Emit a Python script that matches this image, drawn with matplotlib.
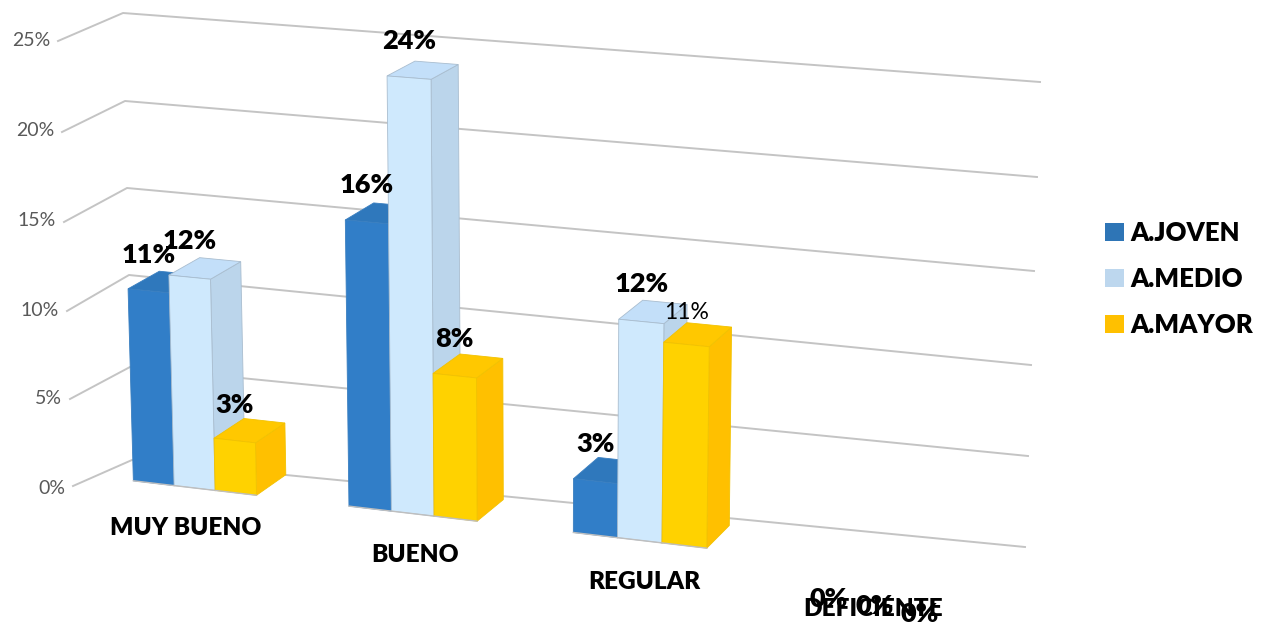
import numpy as np
import matplotlib
matplotlib.use("Agg")
import matplotlib.pyplot as plt
from matplotlib.patches import Polygon, Patch

plt.rcParams['font.family'] = ['Lato', 'DejaVu Sans']

categories = ['MUY BUENO', 'BUENO', 'REGULAR', 'DEFICIENTE']
series = ['A.JOVEN', 'A.MEDIO', 'A.MAYOR']
joven = [11, 16, 3, 0]
medio = [12, 24, 12, 0]
mayor = [3, 8, 11, 0]
ticks = [0, 5, 10, 15, 20, 25]

front_colors = ['#317EC8', '#CFE9FD', '#FFD200']
top_colors = ['#2F78BC', '#C3DFF9', '#FFC800']
side_colors = ['#2E6FAE', '#BBD5EB', '#FFC000']
edge_colors = ['#3A7FC0', '#A9BDCF', '#F2C200']
legend_colors = ['#2E75B6', '#BDD7EE', '#FFC000']

BAR = 0.192  # bar width in category units

# wall corners per tick, in pixels
wall_left = [(73, 486), (70, 399), (67, 311), (64, 222), (62, 132), (58, 41)]
wall_corner = [(132, 460), (130, 367), (129, 275), (127, 188), (125, 101), (123, 13)]
wall_right = [(1025, 547), (1028, 456), (1031, 365), (1034, 271), (1037, 177), (1040, 82)]

# perspective calibration: (category, bar edge, value) -> pixel, front and back plane of the bars
front_cal = [(0, 0, 0, 133, 481), (0, 1, 0, 174, 486), (0, 2, 0, 215, 490), (0, 3, 0, 257, 495),
             (1, 0, 0, 349, 506), (1, 3, 0, 477, 521), (2, 0, 0, 573, 533), (2, 3, 0, 707, 548),
             (0, 0, 11, 128, 289), (0, 1, 12, 169, 275), (0, 2, 3, 214, 438), (0, 3, 3, 256, 443),
             (1, 0, 16, 345, 220), (1, 1, 24, 387, 76), (1, 2, 8, 433, 373), (1, 3, 8, 477, 378),
             (2, 0, 3, 573, 479), (2, 1, 12, 619, 319), (2, 2, 11, 664, 342), (2, 3, 11, 709, 347)]
back_cal = [(0, 1, 12, 200, 257), (0, 2, 12, 241, 262), (0, 3, 3, 285, 423), (0, 3, 0, 286, 475),
            (1, 1, 24, 415, 61), (1, 2, 24, 458, 65), (1, 3, 8, 503, 358), (1, 3, 0, 503, 500),
            (2, 3, 0, 729, 525), (2, 3, 11, 732, 327), (1, 0, 16, 373, 203), (0, 0, 11, 159, 271),
            (2, 0, 3, 598, 458), (2, 1, 12, 643, 300)]


def fit_plane(cal):
    rows, rhs = [], []
    for i, k, v, px, py in cal:
        x = i + k * BAR
        rows.append([x, v, 1, 0, 0, 0, -px * x, -px * v])
        rhs.append(px)
        rows.append([0, 0, 0, x, v, 1, -py * x, -py * v])
        rhs.append(py)
    h = np.linalg.lstsq(np.array(rows, float), np.array(rhs, float), rcond=None)[0]
    return np.append(h, 1).reshape(3, 3)


def project(h, x, v):
    p = h @ np.array([x, v, 1.0])
    return p[0] / p[2], p[1] / p[2]


front = fit_plane(front_cal)
back = fit_plane(back_cal)

fig = plt.figure(figsize=(12.66, 6.23), dpi=100)
ax = fig.add_axes([0, 0, 1, 1])
ax.set_xlim(0, 1266)
ax.set_ylim(623, 0)
ax.axis('off')

# wall gridlines and value ticks
for n, t in enumerate(ticks):
    p0, p1, p2 = wall_left[n], wall_corner[n], wall_right[n]
    ax.plot([p0[0], p1[0], p2[0]], [p0[1], p1[1], p2[1]], color='#C4C4C4', lw=1.4, zorder=1)
    ax.text(p0[0] - 8, p0[1] + (2 if t == 0 else -1), f'{t}%', ha='right', va='center',
            fontsize=14, color='#595959')


def draw_bar(x, v, j):
    x2 = x + BAR
    fb, fr = project(front, x, 0), project(front, x2, 0)
    ft, frt = project(front, x, v), project(front, x2, v)
    bt, brt = project(back, x, v), project(back, x2, v)
    bb = project(back, x2, 0)
    z = 2 + x
    ax.add_patch(Polygon([frt, brt, bb, fr], fc=side_colors[j], ec=edge_colors[j], lw=0.6, zorder=z))
    ax.add_patch(Polygon([ft, bt, brt, frt], fc=top_colors[j], ec=edge_colors[j], lw=0.6, zorder=z))
    ax.add_patch(Polygon([fb, ft, frt, fr], fc=front_colors[j], ec=edge_colors[j], lw=0.6, zorder=z))
    ax.plot([fb[0], fr[0]], [fb[1], fr[1]], color='#BFBFBF', lw=1, zorder=z)


for j, vals in enumerate([joven, medio, mayor]):
    for i, v in enumerate(vals):
        x = i + j * BAR
        if v > 0:
            draw_bar(x, v, j)
        ft, frt = project(front, x, v), project(front, x + BAR, v)
        bt = project(back, x, v)
        lx = (ft[0] + frt[0]) / 2
        small = (i == 2 and j == 2)
        if v > 0:
            ly = bt[1] - 13 - 0.3 * v + (6 if small else 0)
        else:
            lx = 829 + 45.5 * j
            ly = 599 + 7.5 * j
        ax.text(lx, ly, f'{v}%', ha='center', va='center', zorder=10, color='black',
                fontsize=16.5 if small else 19.5, fontweight='normal' if small else 'heavy')

for i, c in enumerate(categories):
    ax.text(186 + 229 * i, 528 + 27 * i, c, ha='center', va='center', fontsize=17.6,
            fontweight='heavy', color='black', zorder=9)

handles = [Patch(fc=c, ec='none') for c in legend_colors]
ax.legend(handles, series, loc='center left', bbox_to_anchor=(1100 / 1266, 1 - 279 / 623),
          frameon=False, prop={'size': 18.5, 'weight': 'heavy'}, handlelength=0.74, handleheight=0.74,
          handletextpad=0.25, labelspacing=0.86, borderaxespad=0, borderpad=0.2)

fig.savefig('out.png', dpi=100)
